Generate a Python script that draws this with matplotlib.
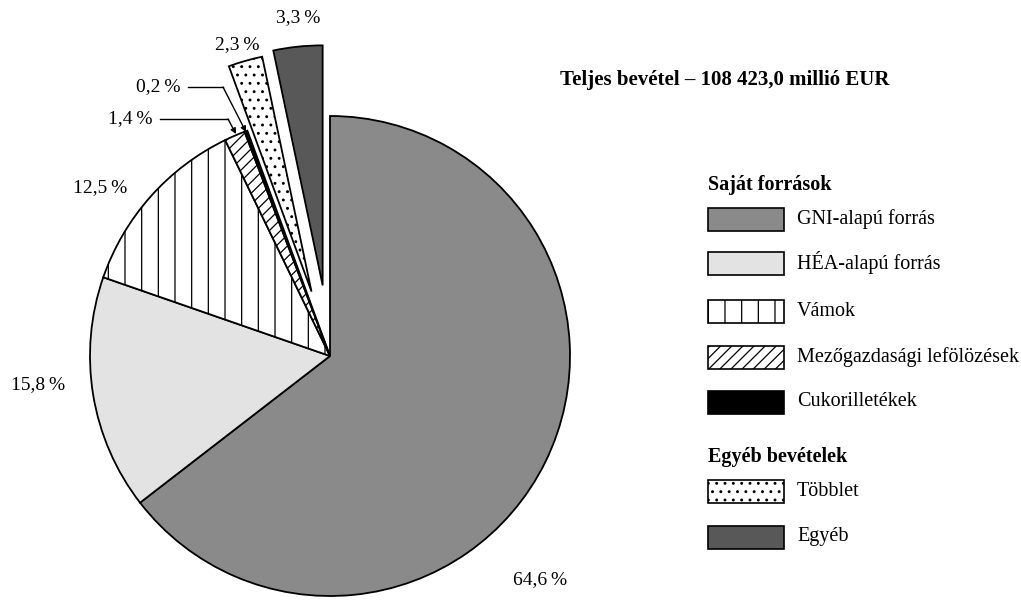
import matplotlib
matplotlib.use("Agg")
import matplotlib.pyplot as plt
from matplotlib.patches import Rectangle

plt.rcParams['font.family'] = ['Liberation Serif', 'DejaVu Serif']
plt.rcParams['hatch.linewidth'] = 0.9

# ---- data ----
categories = ["GNI-alapú forrás", "HÉA-alapú forrás", "Vámok",
              "Mezőgazdasági lefölözések", "Cukorilletékek", "Többlet", "Egyéb"]
values = [64.6, 15.8, 12.5, 1.4, 0.2, 2.3, 3.3]
pct_labels = ["64,6\u2009%", "15,8\u2009%", "12,5\u2009%", "1,4\u2009%",
              "0,2\u2009%", "2,3\u2009%", "3,3\u2009%"]
group_titles = ["Saját források", "Egyéb bevételek"]
title = "Teljes bevétel – 108 423,0 millió EUR"

# ---- styles ----
colors = ['#8a8a8a', '#e3e3e3', 'white', 'white', 'black', 'white', '#585858']
hatches = [None, None, '|', '///', None, '..', None]
explode_px = [0, 0, 0, 0, 0, 67, 71]

W, H = 1021, 601
fig = plt.figure(figsize=(W / 100, H / 100), dpi=100)
ax = fig.add_axes([0, 0, 1, 1])

def Y(y):  # image-pixel y to data y
    return H - y

cx, cy, R = 330, Y(356), 240
wedges, _ = ax.pie(values, startangle=90, counterclock=False, center=(cx, cy),
                   radius=R, explode=explode_px, colors=colors, frame=True,
                   wedgeprops=dict(edgecolor='black', linewidth=1.3))
for w, h in zip(wedges, hatches):
    if h:
        w.set_hatch(h)

ax.set_xlim(0, W)
ax.set_ylim(0, H)
ax.set_aspect('equal')
ax.axis('off')

fs_lab = 14
fs = 14.5
label_pos = [(540, 580), (38, 385), (100, 188), (130, 119), (158, 87), (237, 45), (298, 18)]
for (x, y), t in zip(label_pos, pct_labels):
    ax.text(x, Y(y), t, fontsize=fs_lab, ha='center', va='center')

# leader lines for small slices
ax.plot([160, 228], [Y(119), Y(119)], color='black', lw=1.0)
ax.annotate('', xy=(236, Y(134)), xytext=(228, Y(119)),
            arrowprops=dict(arrowstyle='-|>', color='black', lw=1.0,
                            mutation_scale=8, shrinkA=0, shrinkB=0))
ax.plot([188, 223], [Y(87), Y(87)], color='black', lw=1.0)
ax.annotate('', xy=(246, Y(132)), xytext=(223, Y(87)),
            arrowprops=dict(arrowstyle='-|>', color='black', lw=1.0,
                            mutation_scale=8, shrinkA=0, shrinkB=0))

# title
ax.text(560, Y(80), title, fontsize=15, fontweight='bold', ha='left', va='center')

# legend
bx, bw, bh, tx = 708, 76, 23, 797
ax.text(bx, Y(185), group_titles[0], fontsize=fs, fontweight='bold', ha='left', va='center')
ax.text(bx, Y(457), group_titles[1], fontsize=fs, fontweight='bold', ha='left', va='center')
row_y = [219, 263, 311, 357, 402, 491, 537]
for yc, name, c, h in zip(row_y, categories, colors, hatches):
    r = Rectangle((bx, Y(yc) - bh / 2), bw, bh, facecolor=c, edgecolor='black',
                  linewidth=1.2, hatch=h)
    ax.add_patch(r)
    ax.text(tx, Y(yc), name, fontsize=fs, ha='left', va='center')

fig.savefig('out.png', dpi=100, facecolor='white')
